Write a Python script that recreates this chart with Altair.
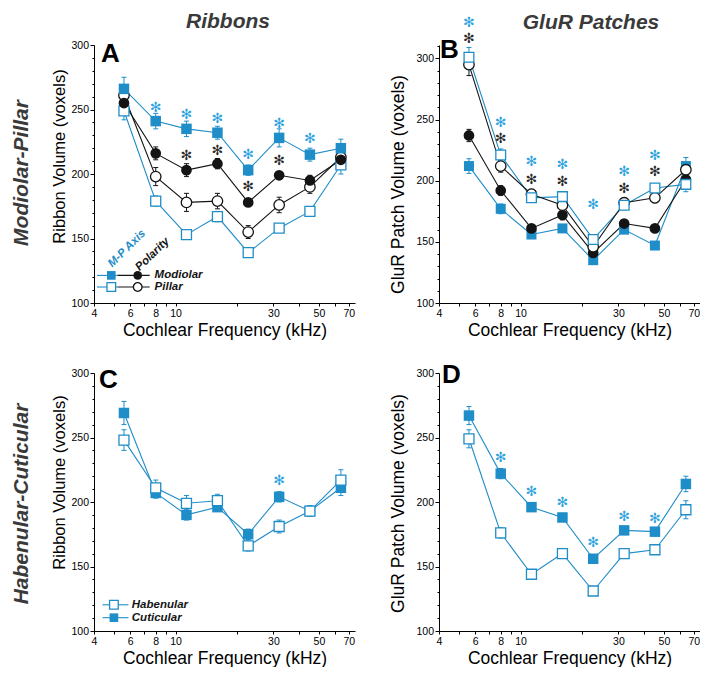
import altair as alt
import pandas as pd

# ---------------- data ----------------
FREQ = [5.6, 8, 11.3, 16, 22.6, 32, 45.2, 64]

# Panel A: Ribbons, Modiolar-Pillar
A_MP_MOD = [266, 241, 235, 232, 203, 228, 215, 220]
A_MP_MOD_ERR = [9, 6, 6, 5, 4, 7, 5, 7]
A_MP_PIL = [249, 179, 153, 167, 139, 158, 171, 207]
A_MP_PIL_ERR = [7, 4, 3, 4, 3, 3, 3, 7]
A_POL_MOD = [255, 216, 203, 208, 178, 199, 195, 211]
A_POL_MOD_ERR = [6, 5, 5, 4, 3, 3, 4, 4]
A_POL_PIL = [261, 198, 178, 179, 155, 176, 190, 213]
A_POL_PIL_ERR = [6, 7, 7, 6, 5, 6, 5, 5]
A_STAR_BLUE_F = [8, 11.3, 16, 22.6, 32, 45.2]
A_STAR_BLUE_Y = [251, 246, 243, 215, 239, 227]
A_STAR_BLACK_F = [11.3, 16, 22.6, 32]
A_STAR_BLACK_Y = [214, 218, 190, 210]

# Panel B: GluR patches, Modiolar-Pillar
B_MP_MOD = [212, 177, 156, 161, 135, 160, 147, 212]
B_MP_MOD_ERR = [6, 4, 3, 3, 3, 3, 3, 7]
B_MP_PIL = [301, 221, 186, 187, 152, 180, 194, 197]
B_MP_PIL_ERR = [8, 5, 3, 3, 3, 3, 3, 6]
B_POL_MOD = [237, 192, 161, 172, 141, 165, 161, 201]
B_POL_MOD_ERR = [5, 4, 3, 4, 3, 3, 3, 5]
B_POL_PIL = [295, 212, 189, 180, 146, 182, 186, 209]
B_POL_PIL_ERR = [9, 5, 4, 4, 3, 4, 4, 5]
B_STAR_BLUE_F = [5.6, 8, 11.3, 16, 22.6, 32, 45.2]
B_STAR_BLUE_Y = [329, 247, 215, 213, 180, 207, 220]
B_STAR_BLACK_F = [5.6, 8, 11.3, 16, 32, 45.2]
B_STAR_BLACK_Y = [316, 234, 201, 199, 193, 207]

# Panel C: Ribbons, Habenular-Cuticular
C_HAB = [248, 211, 199, 201, 166, 181, 193, 217]
C_HAB_ERR = [8, 6, 6, 5, 4, 5, 4, 8]
C_CUT = [269, 207, 190, 196, 175, 204, 193, 211]
C_CUT_ERR = [9, 4, 4, 3, 4, 4, 4, 6]
C_STAR_F = [32]
C_STAR_Y = [216]

# Panel D: GluR patches, Habenular-Cuticular
D_CUT = [267, 222, 196, 188, 156, 178, 177, 214]
D_CUT_ERR = [7, 4, 3, 3, 3, 3, 3, 6]
D_HAB = [249, 176, 144, 160, 131, 160, 163, 194]
D_HAB_ERR = [7, 4, 3, 3, 3, 3, 3, 7]
D_STAR_F = [8, 11.3, 16, 22.6, 32, 45.2]
D_STAR_Y = [234, 208, 199, 168, 188, 187]

X_TICKS = [4, 5, 6, 7, 8, 9, 10, 20, 30, 40, 50, 60, 70]
X_LABELS = [4, 6, 8, 10, 30, 50, 70]

# ---------------- style ----------------
W, H = 261, 258
FONT = "Liberation Sans"
BLUE = "#1f8dc8"
BLACK = "#141414"
STARBLUE = "#2ea2dc"
STARBLACK = "#2a2a2a"
GRAY = "#3a3a3a"
ONE = pd.DataFrame({"k": [0]})


def make_enc(ydomain, ytitle, ytitle_size, title_x, title_y):
    yvals = list(range(100, int(ydomain[1]) + 1, 10))
    xs = alt.Scale(type="log", domain=[4, 75], nice=False)
    lab = ",".join(str(v) for v in X_LABELS)
    xa = alt.Axis(values=X_TICKS,
                  labelExpr="indexof([" + lab + "], round(datum.value)) >= 0 ? format(datum.value, 'd') : ''",
                  title="Cochlear Frequency (kHz)", titleFontSize=17.5, titleFontWeight="normal",
                  titlePadding=3, labelFontSize=10.5, labelPadding=2, tickSize=3,
                  labelFlush=False, labelOverlap=False, grid=False)
    ys = alt.Scale(domain=ydomain, nice=False, zero=False)
    ya = alt.Axis(values=yvals,
                  labelExpr="datum.value % 50 === 0 ? format(datum.value, 'd') : ''",
                  tickSize={"condition": {"test": "datum.value % 50 === 0", "value": 4}, "value": 2},
                  labelFontSize=10.5, labelPadding=1.5, labelFlush=False, labelOverlap=False,
                  title=ytitle, titleFontSize=ytitle_size, titleFontWeight="normal",
                  titleX=title_x, titleY=title_y, titleAngle=270, titleAlign="center",
                  titleBaseline="middle", grid=False)

    def X(field="f"):
        return alt.X(field, type="quantitative", scale=xs, axis=xa)

    def Y(field):
        return alt.Y(field, type="quantitative", scale=ys, axis=ya)

    return X, Y


def series(X, Y, vals, errs, color, shape, is_open, size):
    df = pd.DataFrame({"f": FREQ, "v": vals,
                       "lo": [v - e for v, e in zip(vals, errs)],
                       "hi": [v + e for v, e in zip(vals, errs)]})
    base = alt.Chart(df)
    line = base.mark_line(color=color, strokeWidth=1.1).encode(x=X(), y=Y("v"))
    err = [base.mark_rule(color=color, strokeWidth=1).encode(x=X(), y=Y("lo"), y2="hi")]
    for k in ("lo", "hi"):
        err.append(base.mark_rule(color=color, strokeWidth=1, xOffset=-2.5, x2Offset=2.5)
                   .encode(x=X(), x2="f", y=Y(k)))
    if shape == "square":
        if is_open:
            pts = base.mark_square(size=size, fill="white", stroke=color, strokeWidth=1.3, opacity=1)
        else:
            pts = base.mark_square(size=size, color=color, opacity=1)
    else:
        if is_open:
            pts = base.mark_circle(size=size, fill="white", stroke=color, strokeWidth=1.3, opacity=1)
        else:
            pts = base.mark_circle(size=size, color=color, opacity=1)
    pts = pts.encode(x=X(), y=Y("v"))
    return line, err, pts


def stars(X, Y, fs, ys, color):
    df = pd.DataFrame({"f": fs, "y": ys})
    return alt.Chart(df).mark_text(text="✻", font="DejaVu Sans", fontSize=14, color=color,
                                   baseline="middle", align="center").encode(x=X(), y=Y("y"))


def ptext(txt, x, y, size, color, weight="normal", style="normal", angle=0,
          align="center", baseline="middle"):
    return alt.Chart(ONE).mark_text(text=txt, font=FONT, fontSize=size, color=color,
                                    fontWeight=weight, fontStyle=style, angle=angle,
                                    align=align, baseline=baseline).encode(
        x=alt.value(x), y=alt.value(y))


def ppoint(x, y, shape, color, is_open, size=75):
    if shape == "square":
        m = alt.Chart(ONE).mark_square(size=size, opacity=1,
                                       **({"fill": "white", "stroke": color, "strokeWidth": 1.3}
                                          if is_open else {"color": color}))
    else:
        m = alt.Chart(ONE).mark_circle(size=size, opacity=1,
                                       **({"fill": "white", "stroke": color, "strokeWidth": 1.3}
                                          if is_open else {"color": color}))
    return m.encode(x=alt.value(x), y=alt.value(y))


def prule(x1, x2, y, color):
    return alt.Chart(ONE).mark_rule(color=color, strokeWidth=1.1).encode(
        x=alt.value(x1), x2=alt.value(x2), y=alt.value(y))


# ---------------- panel A ----------------
X, Y = make_enc([100, 300], "Ribbon Volume (voxels)", 16.5, -35, 111)
s1 = series(X, Y, A_MP_PIL, A_MP_PIL_ERR, BLUE, "square", True, 100)
s2 = series(X, Y, A_MP_MOD, A_MP_MOD_ERR, BLUE, "square", False, 110)
s3 = series(X, Y, A_POL_PIL, A_POL_PIL_ERR, BLACK, "circle", True, 110)
s4 = series(X, Y, A_POL_MOD, A_POL_MOD_ERR, BLACK, "circle", False, 115)
ly1, ly2 = H - 27.6, H - 16
layersA = [s1[0], s2[0], s3[0], s4[0]] + s1[1] + s2[1] + s3[1] + s4[1] + \
    [s1[2], s3[2], s4[2], s2[2],
     stars(X, Y, A_STAR_BLUE_F, A_STAR_BLUE_Y, STARBLUE),
     stars(X, Y, A_STAR_BLACK_F, A_STAR_BLACK_Y, STARBLACK),
     prule(3, 23.5, ly1, BLUE), prule(23.5, 55.7, ly1, BLACK),
     prule(3, 23.5, ly2, BLUE), prule(23.5, 55.7, ly2, BLACK),
     ppoint(17.3, ly1, "square", BLUE, False), ppoint(43.7, ly1, "circle", BLACK, False),
     ppoint(17.3, ly2, "square", BLUE, True), ppoint(43.7, ly2, "circle", BLACK, True),
     ptext("Modiolar", 60.6, ly1, 11.5, BLACK, "bold", "italic", align="left"),
     ptext("Pillar", 60.6, ly2, 11.5, BLACK, "bold", "italic", align="left"),
     ptext("M-P Axis", 33, H - 54.3, 11.5, BLUE, "bold", "italic", angle=315),
     ptext("Polarity", 58.7, H - 48.5, 11.5, BLACK, "bold", "italic", angle=316),
     ptext("A", 7, 17, 26, "black", "bold", align="left", baseline="alphabetic"),
     ptext("Ribbons", 134, -23, 21, GRAY, "bold", "italic"),
     ptext("Modiolar-Pillar", -72, 128, 21, GRAY, "bold", "italic", angle=270)]
panelA = alt.layer(*layersA).properties(width=W, height=H)

# ---------------- panel B ----------------
X, Y = make_enc([100, 311], "GluR Patch Volume (voxels)", 17.5, -41, 139)
s1 = series(X, Y, B_MP_PIL, B_MP_PIL_ERR, BLUE, "square", True, 95)
s2 = series(X, Y, B_MP_MOD, B_MP_MOD_ERR, BLUE, "square", False, 100)
s3 = series(X, Y, B_POL_PIL, B_POL_PIL_ERR, BLACK, "circle", True, 110)
s4 = series(X, Y, B_POL_MOD, B_POL_MOD_ERR, BLACK, "circle", False, 115)
layersB = [s1[0], s2[0], s3[0], s4[0]] + s1[1] + s2[1] + s3[1] + s4[1] + \
    [s2[2], s4[2], s3[2], s1[2],
     stars(X, Y, B_STAR_BLUE_F, B_STAR_BLUE_Y, STARBLUE),
     stars(X, Y, B_STAR_BLACK_F, B_STAR_BLACK_Y, STARBLACK),
     ptext("B", 1, 13, 26, "black", "bold", align="left", baseline="alphabetic"),
     ptext("GluR Patches", 152, -22, 21, GRAY, "bold", "italic")]
panelB = alt.layer(*layersB).properties(width=W, height=H)

# ---------------- panel C ----------------
X, Y = make_enc([100, 300], "Ribbon Volume (voxels)", 16.5, -35, 109)
s1 = series(X, Y, C_CUT, C_CUT_ERR, BLUE, "square", False, 110)
s2 = series(X, Y, C_HAB, C_HAB_ERR, BLUE, "square", True, 100)
lc1, lc2 = H - 26.2, H - 13.3
layersC = [s1[0], s2[0]] + s1[1] + s2[1] + \
    [s1[2], s2[2],
     stars(X, Y, C_STAR_F, C_STAR_Y, STARBLUE),
     prule(8.5, 34.5, lc1, BLUE), prule(8.5, 34.5, lc2, BLUE),
     ppoint(19.9, lc1, "square", BLUE, True), ppoint(19.9, lc2, "square", BLUE, False),
     ptext("Habenular", 37.8, lc1, 11.5, BLACK, "bold", "italic", align="left"),
     ptext("Cuticular", 37.8, lc2, 11.5, BLACK, "bold", "italic", align="left"),
     ptext("C", 5, 15, 26, "black", "bold", align="left", baseline="alphabetic"),
     ptext("Habenular-Cuticular", -72, 131, 21, GRAY, "bold", "italic", angle=270)]
panelC = alt.layer(*layersC).properties(width=W, height=H)

# ---------------- panel D ----------------
X, Y = make_enc([100, 300], "GluR Patch Volume (voxels)", 17.5, -41, 130)
s1 = series(X, Y, D_HAB, D_HAB_ERR, BLUE, "square", True, 100)
s2 = series(X, Y, D_CUT, D_CUT_ERR, BLUE, "square", False, 110)
layersD = [s1[0], s2[0]] + s1[1] + s2[1] + \
    [s1[2], s2[2],
     stars(X, Y, D_STAR_F, D_STAR_Y, STARBLUE),
     ptext("D", 3, 10, 26, "black", "bold", align="left", baseline="alphabetic")]
panelD = alt.layer(*layersD).properties(width=W, height=H)

chart = alt.concat(panelA, panelB, panelC, panelD, columns=2,
                   spacing={"row": 70, "column": 84}, bounds="flush").properties(
    padding={"left": 3, "top": 3, "right": 0, "bottom": 0}
).configure_view(stroke=None).configure_axis(
    labelFont=FONT, titleFont=FONT, domainColor="black", tickColor="black",
    labelColor="black", titleColor="black", domainWidth=1, tickWidth=1
)

chart.save("out.html", embed_options={"renderer": "svg", "actions": False})
